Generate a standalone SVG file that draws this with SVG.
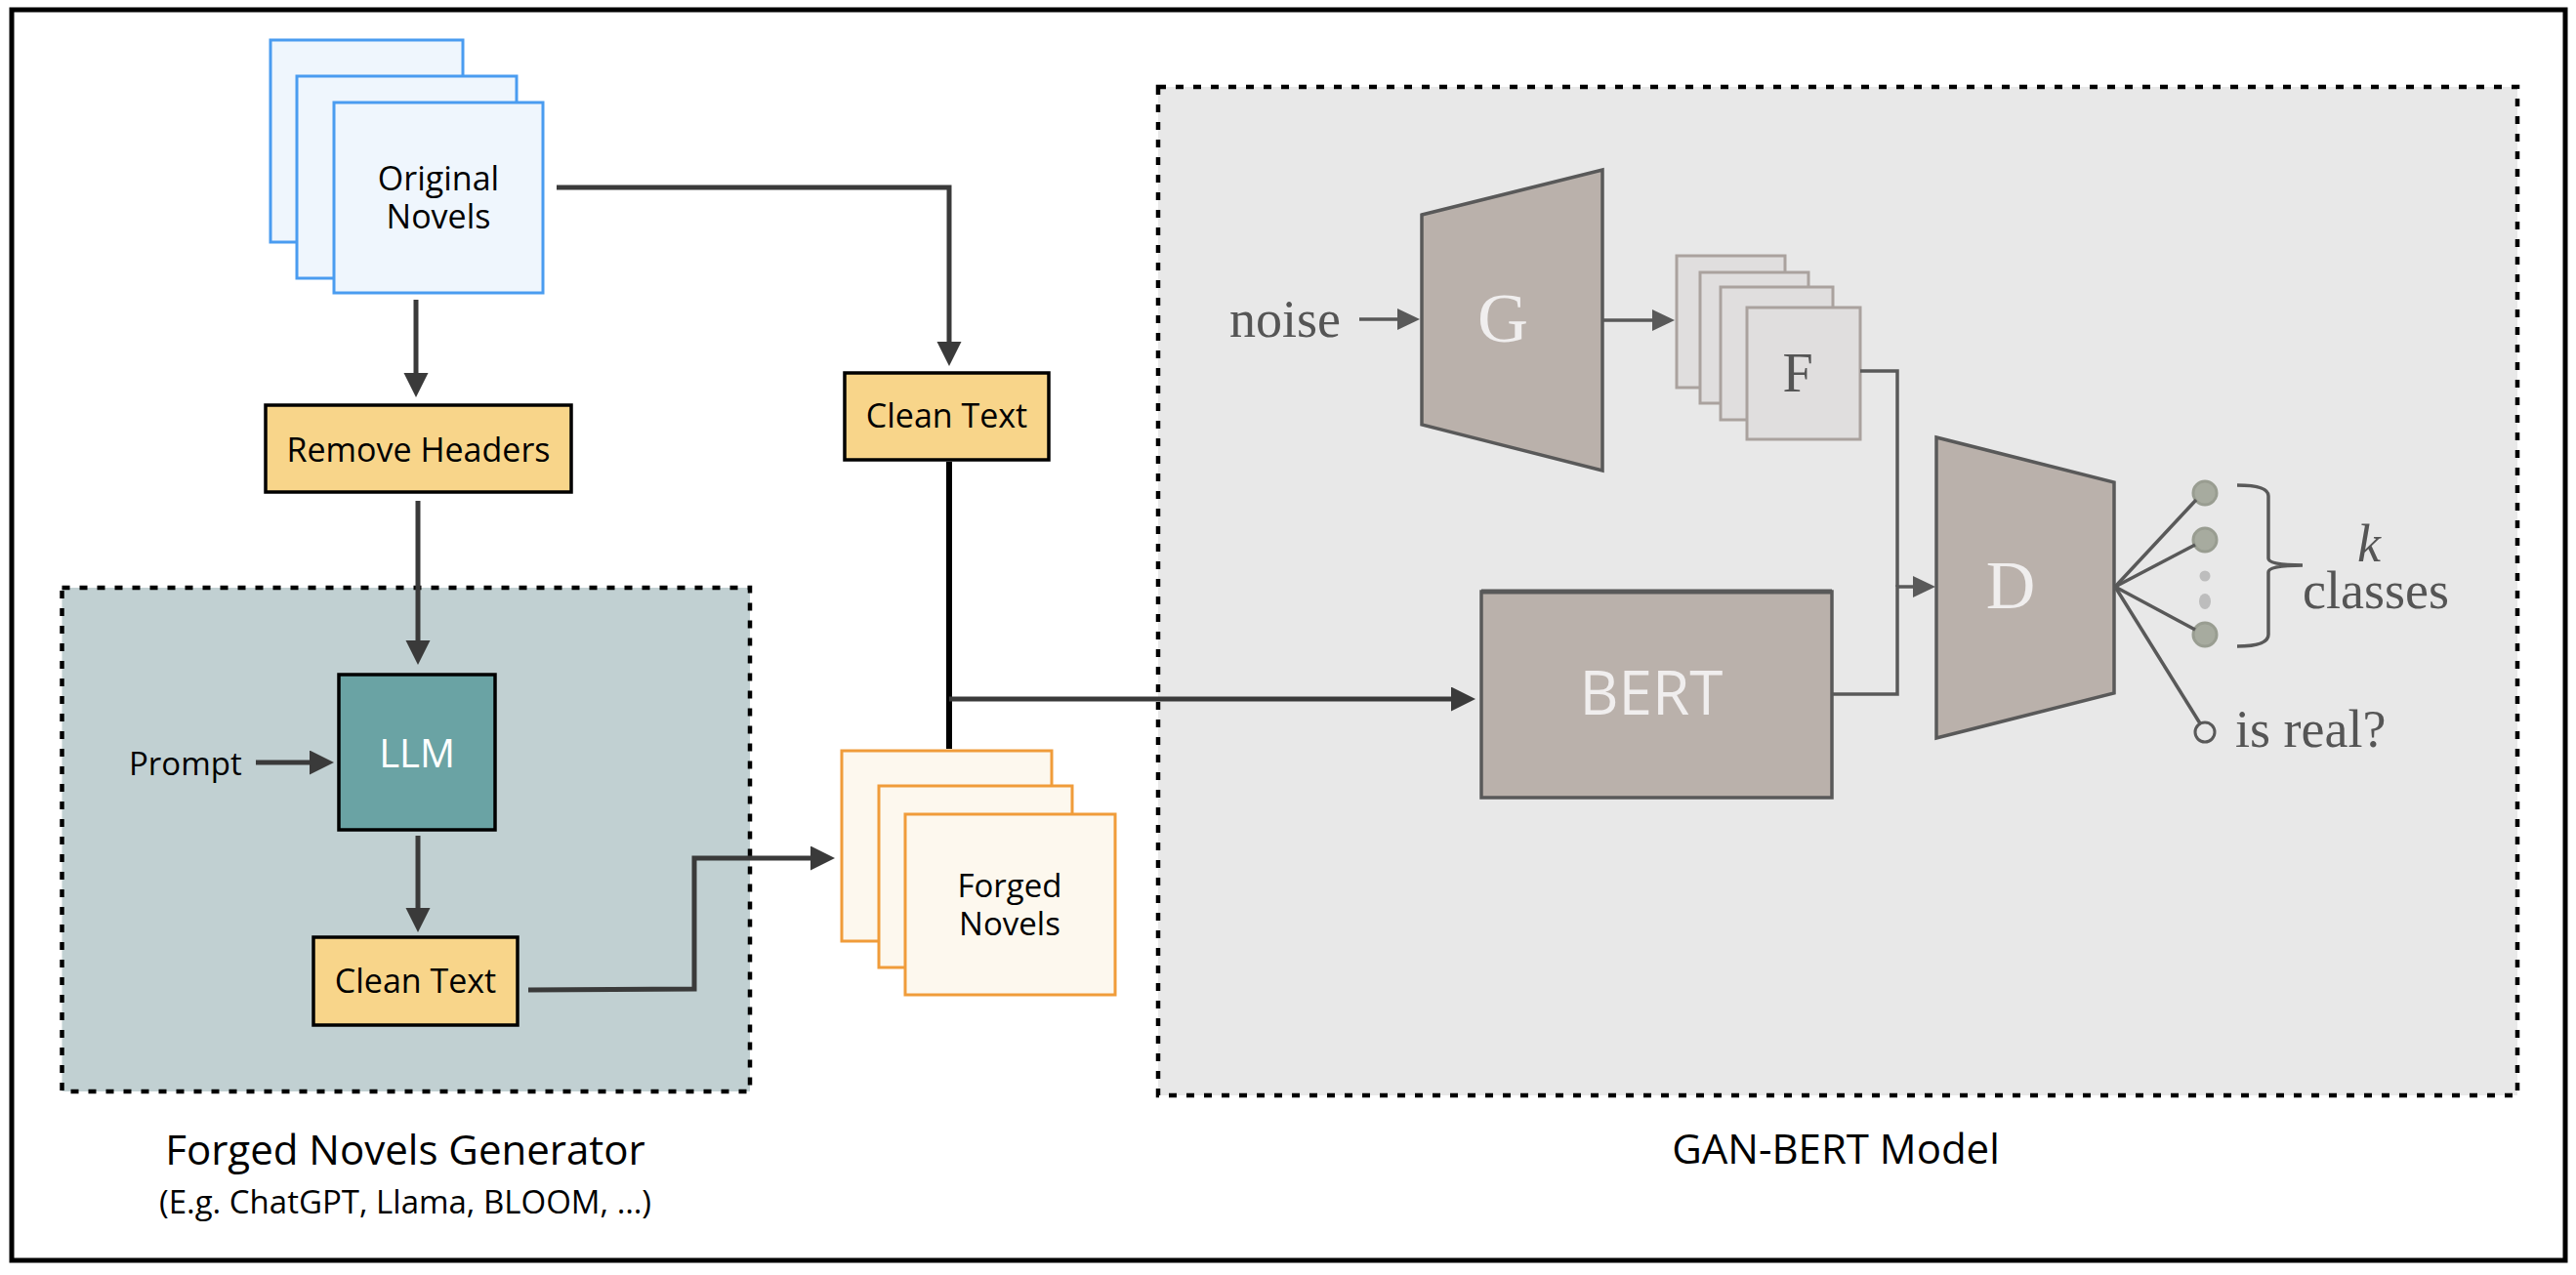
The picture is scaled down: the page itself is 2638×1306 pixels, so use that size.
<svg xmlns="http://www.w3.org/2000/svg" width="2638" height="1306" viewBox="0 0 2638 1306">
<defs>
<style>
.sans{font-family:"Open Sans","Noto Sans","Liberation Sans",sans-serif;fill:#000}
.serif{font-family:"Liberation Serif","DejaVu Serif",serif;fill:#555}
.dash{stroke:#000;stroke-width:4.5;stroke-dasharray:8 10}
.conn{fill:none;stroke:#3a3a3a;stroke-width:5}
.gconn{fill:none;stroke:#595959;stroke-width:3.5}
.blue{fill:#eff6fd;stroke:#4a9cf0;stroke-width:3}
.orange{fill:#fdf8ee;stroke:#f09c3a;stroke-width:3}
.yellow{fill:#f8d58a;stroke:#000;stroke-width:3.5}
.fpage{fill:#e0dede;stroke:#aaa29e;stroke-width:3}
.trap{fill:#bab1ab;stroke:#595959;stroke-width:3.5}
.cls{fill:#a7ab9f;stroke:#999d91;stroke-width:3}
</style>
<marker id="ah" markerUnits="userSpaceOnUse" markerWidth="26" markerHeight="26" refX="13" refY="12.5" orient="auto">
<path d="M0,0 L25,12.5 L0,25 z" fill="#3a3a3a"/>
</marker>
<marker id="gh" markerUnits="userSpaceOnUse" markerWidth="24" markerHeight="24" refX="12" refY="11" orient="auto">
<path d="M0,0 L23,11 L0,22 z" fill="#595959"/>
</marker>
</defs>
<rect x="0" y="0" width="2638" height="1306" fill="#fff"/>
<rect x="12" y="10" width="2615" height="1281" fill="none" stroke="#000" stroke-width="5"/>

<g id="gen-group">
<rect x="63.5" y="602" width="704.5" height="516" fill="#c1d0d2" class="dash"/>
<text class="sans" x="415" y="1193" font-size="42" text-anchor="middle">Forged Novels Generator</text>
<text class="sans" x="415" y="1243" font-size="33" text-anchor="middle">(E.g. ChatGPT, Llama, BLOOM, …)</text>
</g>

<g id="gan-group">
<rect x="1186" y="89" width="1392" height="1033" fill="#e8e8e8" class="dash"/>
<text class="sans" x="1880" y="1192" font-size="42" text-anchor="middle">GAN-BERT Model</text>
</g>

<g id="original-novels">
<rect class="blue" x="277" y="41" width="197" height="207"/>
<rect class="blue" x="304" y="78" width="225" height="207"/>
<rect class="blue" x="342" y="105" width="214" height="195"/>
<text class="sans" font-size="34" text-anchor="middle"><tspan x="449" y="195">Original</tspan><tspan x="449" y="234">Novels</tspan></text>
</g>

<g id="remove-headers">
<rect class="yellow" x="272" y="415" width="313" height="89"/>
<text class="sans" x="428.5" y="473" font-size="34" text-anchor="middle">Remove Headers</text>
</g>

<g id="clean-text-top">
<rect class="yellow" x="865" y="382" width="209" height="89"/>
<text class="sans" x="969.5" y="438" font-size="34" text-anchor="middle">Clean Text</text>
</g>

<g id="prompt">
<text class="sans" x="132" y="794" font-size="33">Prompt</text>
</g>

<g id="llm">
<rect x="347" y="691" width="160" height="159" fill="#6aa3a4" stroke="#000" stroke-width="3.5"/>
<text class="sans" x="427" y="786" font-size="40" text-anchor="middle" style="fill:#fff">LLM</text>
</g>

<g id="clean-text-bottom">
<rect class="yellow" x="321" y="960" width="209" height="90"/>
<text class="sans" x="425.5" y="1017" font-size="34" text-anchor="middle">Clean Text</text>
</g>

<g id="forged-novels">
<rect class="orange" x="862" y="769" width="215" height="195"/>
<rect class="orange" x="900" y="805" width="198" height="186"/>
<rect class="orange" x="927" y="834" width="215" height="185"/>
<text class="sans" font-size="33" text-anchor="middle"><tspan x="1034" y="919">Forged</tspan><tspan x="1034" y="958">Novels</tspan></text>
</g>

<g id="noise">
<text class="serif" x="1373" y="345" font-size="54" text-anchor="end">noise</text>
</g>

<g id="generator">
<polygon class="trap" points="1456,220 1641,174 1641,482 1456,435"/>
<text class="serif" x="1539" y="350" font-size="72" text-anchor="middle" style="fill:#f0eeee">G</text>
</g>

<g id="fake-features">
<rect class="fpage" x="1717" y="262" width="111" height="135"/>
<rect class="fpage" x="1741" y="279" width="111" height="134"/>
<rect class="fpage" x="1762" y="294" width="115" height="136"/>
<rect class="fpage" x="1789" y="315" width="116" height="135"/>
<text class="serif" x="1841" y="401" font-size="56" text-anchor="middle">F</text>
</g>

<g id="bert">
<rect x="1517" y="606" width="359" height="211" fill="#bab1ab" stroke="#595959" stroke-width="3.5"/>
<line x1="1517" y1="606" x2="1876" y2="606" stroke="#595959" stroke-width="5"/>
<text class="sans" x="1691" y="732" font-size="62" text-anchor="middle" style="fill:#f0eeee">BERT</text>
</g>

<g id="discriminator">
<polygon class="trap" points="1983,448 2165,494 2165,710 1983,756"/>
<text class="serif" x="2059" y="623" font-size="70" text-anchor="middle" style="fill:#f0eeee">D</text>
</g>

<g id="outputs">
<circle class="cls" cx="2258" cy="505" r="12"/>
<circle class="cls" cx="2258" cy="553" r="12"/>
<circle cx="2258" cy="590" r="5.5" fill="#bdbdbd"/>
<ellipse cx="2258" cy="616" rx="6" ry="8" fill="#bdbdbd"/>
<circle class="cls" cx="2258" cy="650" r="12"/>
<circle cx="2258" cy="750" r="10" fill="none" stroke="#595959" stroke-width="3"/>
<path d="M2291,497 Q2323,497 2323,508 L2323,572 Q2323,579 2358,579 Q2323,579 2323,586 L2323,650 Q2323,662 2291,662" fill="none" stroke="#595959" stroke-width="3.5"/>
<text class="serif" font-size="54" text-anchor="middle"><tspan x="2426" y="575" font-style="italic">k</tspan><tspan x="2433" y="623">classes</tspan></text>
<text class="serif" x="2289" y="765" font-size="54">is real?</text>
</g>

<g id="connectors">
<line class="conn" x1="426" y1="307" x2="426" y2="395" marker-end="url(#ah)"/>
<polyline class="conn" points="570,192 972,192 972,363" marker-end="url(#ah)"/>
<line class="conn" x1="428" y1="513" x2="428" y2="669" marker-end="url(#ah)"/>
<line class="conn" x1="262" y1="781" x2="330" y2="781" marker-end="url(#ah)"/>
<line class="conn" x1="428" y1="856" x2="428" y2="943" marker-end="url(#ah)"/>
<polyline class="conn" points="541,1014 711,1013 711,879 843,879" marker-end="url(#ah)"/>
<line x1="972" y1="473" x2="972" y2="767" stroke="#000" stroke-width="6"/>
<line class="conn" x1="972" y1="716" x2="1499" y2="716" marker-end="url(#ah)"/>
<line class="gconn" x1="1392" y1="327" x2="1443" y2="327" marker-end="url(#gh)"/>
<line class="gconn" x1="1641" y1="328" x2="1704" y2="328" marker-end="url(#gh)"/>
<polyline class="gconn" points="1905,380 1943,380 1943,601"/>
<polyline class="gconn" points="1876,711 1943,711 1943,601 1971,601" marker-end="url(#gh)"/>
<line class="gconn" x1="2166" y1="601" x2="2249" y2="512"/>
<line class="gconn" x1="2166" y1="601" x2="2248" y2="558"/>
<line class="gconn" x1="2166" y1="601" x2="2248" y2="645"/>
<line class="gconn" x1="2166" y1="601" x2="2253" y2="741"/>
</g>
</svg>
